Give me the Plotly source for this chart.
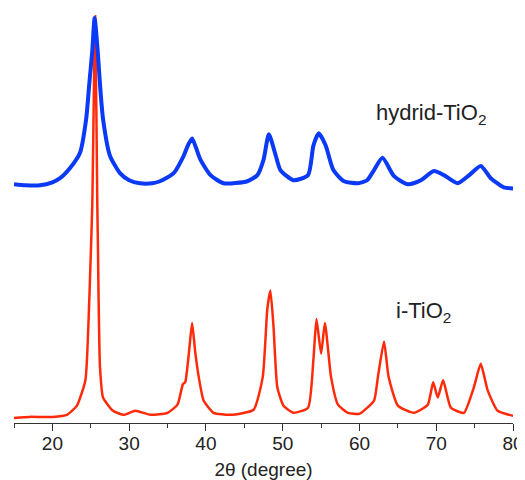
import plotly.graph_objects as go

# hydrid-TiO2 pattern (2theta, intensity a.u.)
two_theta_hydrid = [15.0, 16.5, 18.4, 20.0, 21.0, 22.3, 23.6, 24.4, 24.8, 25.2, 25.5, 25.9, 26.2, 26.6,
                    27.5, 28.8, 30.0, 31.4, 33.0, 34.0, 35.8, 37.1, 37.7, 38.2, 38.7, 39.3, 40.6, 42.3,
                    45.4, 46.7, 47.5, 48.2, 49.1, 49.7, 51.4, 53.3, 54.0, 54.7, 55.6, 56.6, 58.0, 59.8,
                    61.0, 61.9, 63.0, 64.5, 66.3, 68.0, 69.7, 71.0, 72.8, 74.3, 75.8, 77.1, 78.8, 80.0]
intensity_hydrid = [234, 233, 233, 236, 240, 250, 265, 298, 332, 365, 397, 365, 332, 298,
                    262, 245, 238, 235, 235, 237, 245, 262, 273, 279, 270, 258, 243, 235,
                    237, 243, 258, 283, 262, 248, 238, 243, 272, 284, 272, 248, 237, 235,
                    238, 248, 260, 242, 234, 238, 247, 243, 235, 243, 252, 240, 231, 230]

# i-TiO2 pattern
two_theta_i = [15.0, 17.0, 20.0, 21.9, 23.2, 24.3, 24.7, 25.0, 25.2, 25.57, 25.85, 25.95, 26.0, 26.2,
               26.6, 27.9, 29.3, 30.8, 32.8, 35.0, 36.3, 37.0, 37.3, 37.8, 38.2, 38.6, 39.0, 39.7,
               41.0, 43.2, 46.2, 47.4, 48.0, 48.4, 48.8, 49.3, 50.1, 51.4, 53.3, 54.0, 54.4, 55.0,
               55.5, 56.3, 57.2, 58.5, 60.0, 61.9, 62.4, 63.2, 63.8, 65.0, 67.1, 68.9, 69.6, 70.2,
               70.9, 71.9, 73.6, 74.9, 75.8, 76.7, 78.0, 80.0]
intensity_i = [5, 6, 6, 8, 17, 42, 98, 165, 215, 399, 215, 165, 132, 55,
               25, 12, 8, 12, 8, 10, 18, 38, 40, 70, 98, 70, 48, 22,
               10, 8, 13, 45, 112, 130, 95, 35, 17, 10, 15, 62, 102, 68,
               98, 45, 18, 10, 9, 22, 45, 80, 45, 17, 10, 18, 40, 25,
               42, 15, 10, 35, 58, 32, 12, 7]

x_ticks = [20, 30, 40, 50, 60, 70, 80]

FONT = "Liberation Sans, Arial, sans-serif"

fig = go.Figure()
fig.add_trace(go.Scatter(x=two_theta_i, y=intensity_i, mode="lines",
                         line=dict(color="#ff2a0a", width=2.5, shape="spline", smoothing=0.5),
                         showlegend=False))
fig.add_trace(go.Scatter(x=two_theta_hydrid, y=intensity_hydrid, mode="lines",
                         line=dict(color="#0a3af5", width=4, shape="spline", smoothing=0.6),
                         showlegend=False))

fig.add_annotation(x=69.3, y=303, text="hydrid-TiO<sub>2</sub>", showarrow=False,
                   font=dict(family=FONT, size=22, color="#222222"))
fig.add_annotation(x=68.3, y=109, text="i-TiO<sub>2</sub>", showarrow=False,
                   font=dict(family=FONT, size=22, color="#222222"))

# page body adds an 8px offset, so the figure is sized to fit inside it
fig.update_layout(
    width=517, height=472,
    margin=dict(l=6, r=12, t=7, b=57, autoexpand=False),
    paper_bgcolor="white", plot_bgcolor="white",
    font=dict(family=FONT, size=19, color="#222222"),
    xaxis=dict(range=[15, 80], tickvals=x_ticks, ticks="outside", ticklen=7, tickwidth=1,
               tickcolor="#333333", showline=True, linecolor="#333333", linewidth=1,
               showgrid=False, zeroline=False, automargin=False, ticklabelstandoff=-4,
               minor=dict(dtick=5, tick0=15, ticks="outside", ticklen=4, tickcolor="#333333", showgrid=False),
               title=dict(text="2θ (degree)", standoff=10, font=dict(size=19)),
               tickfont=dict(size=19)),
    yaxis=dict(range=[0, 400], visible=False, showgrid=False, zeroline=False, automargin=False),
)

fig.write_html("out.html")
